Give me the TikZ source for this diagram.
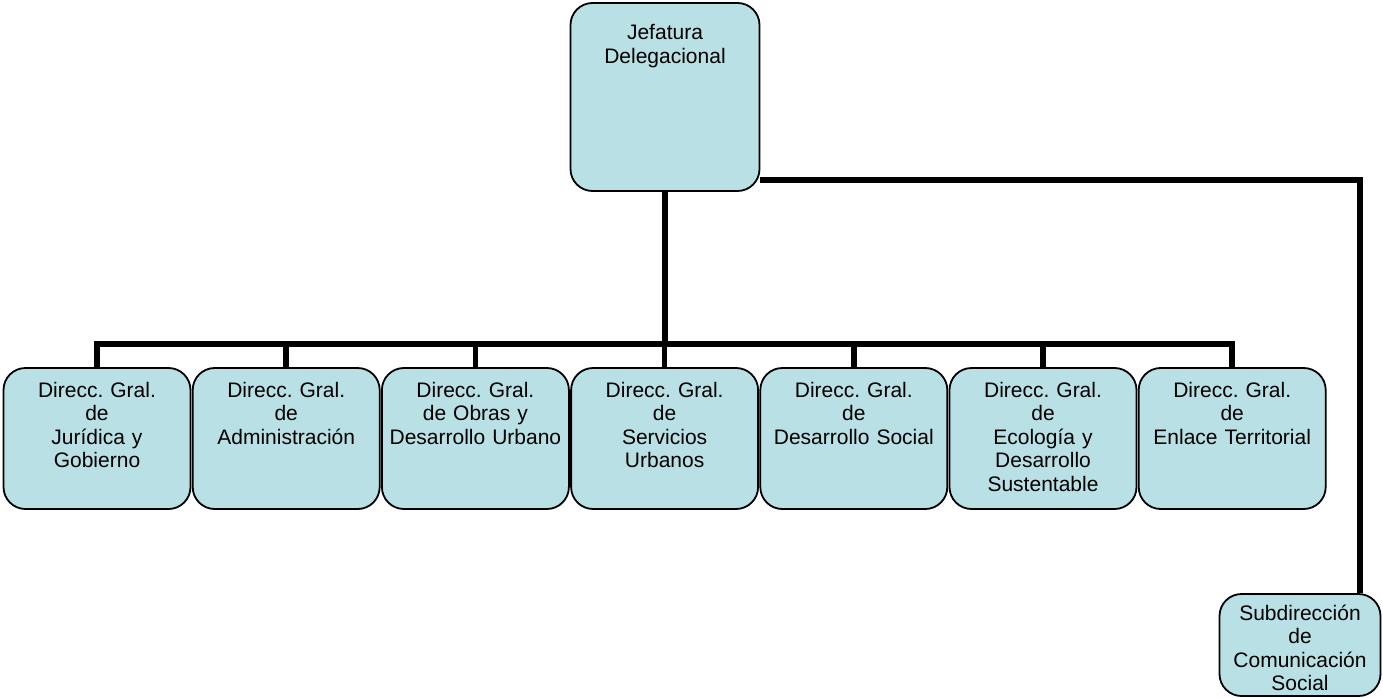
\documentclass[tikz,border=0pt]{standalone}
\usepackage{fontspec}
\setmainfont{Liberation Sans}
\usetikzlibrary{positioning}
\definecolor{cajaazul}{RGB}{185,224,228}
\frenchspacing

\begin{document}
\begin{tikzpicture}[x=1pt, y=-1pt, node distance=189.2pt, on grid,
        unit/.style={draw, line width=1.8pt, fill=cajaazul, rounded corners=22pt, align=center,
            inner xsep=4pt, inner ysep=0pt, font=\fontsize{21}{23.5}\selectfont},
        dgbox/.style={unit, text width=179pt, text height=29pt, text depth=112pt},
        link/.style={line width=5.5pt}]
        \useasboundingbox (0,0) rectangle (1383,698);
        \node[unit, text width=181pt, text height=37pt, text depth=151pt] (jefe) at (665,97) {Jefatura\\Delegacional};
        \node[dgbox] (dg1) at (97,438.5) {Direcc. Gral.\\de\\Jurídica y\\Gobierno};
        \node[dgbox] (dg2) [right=of dg1] {Direcc. Gral.\\de\\Administración};
        \node[dgbox] (dg3) [right=of dg2] {Direcc. Gral.\\de Obras y\\Desarrollo Urbano};
        \node[dgbox] (dg4) [right=of dg3] {Direcc. Gral.\\de\\Servicios\\Urbanos};
        \node[dgbox] (dg5) [right=of dg4] {Direcc. Gral.\\de\\Desarrollo Social};
        \node[dgbox] (dg6) [right=of dg5] {Direcc. Gral.\\de\\Ecología y\\Desarrollo\\Sustentable};
        \node[dgbox] (dg7) [right=of dg6] {Direcc. Gral.\\de\\Enlace Territorial};
        \node[unit, text width=153pt, text height=26pt, text depth=76pt] (sub) at (1300,645) {Subdirección\\de\\Comunicación\\Social};
        \coordinate (bus) at (665,344);
        \draw[link] (jefe.south) -- (bus);
        \draw[link] (dg1.north) -- (dg1.north |- bus) -- (dg7.north |- bus) -- (dg7.north);
        \draw[link] (dg2.north) -- (dg2.north |- bus);
        \draw[link] (dg3.north) -- (dg3.north |- bus);
        \draw[link] (dg4.north) -- (dg4.north |- bus);
        \draw[link] (dg5.north) -- (dg5.north |- bus);
        \draw[link] (dg6.north) -- (dg6.north |- bus);
        \draw[link] ([yshift=12pt]jefe.south east) -| ([xshift=60pt]sub.north);
    \end{tikzpicture}
\end{document}
